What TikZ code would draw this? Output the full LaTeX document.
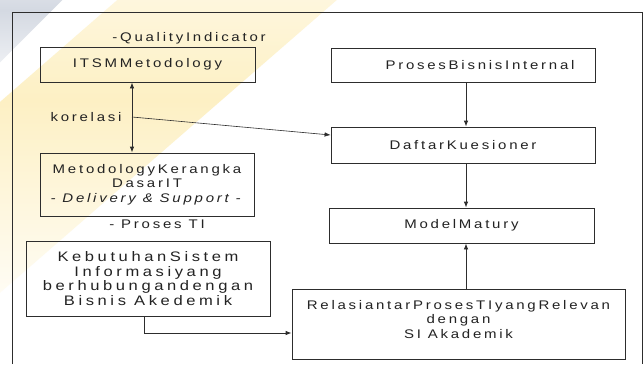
\documentclass[tikz,border=0pt]{standalone}
\usepackage{fontspec}
\setmainfont{Liberation Sans}[FakeStretch=1.2, LetterSpace=22]
\usetikzlibrary{arrows.meta}
\definecolor{inkc}{RGB}{35,35,35}
\definecolor{linec}{RGB}{45,45,45}
\definecolor{bandy}{RGB}{253,240,196}
\definecolor{bandg}{RGB}{212,217,226}
\tikzset{
  box/.style={draw=linec, line width=0.8pt, inner sep=0pt, align=center, text=inkc,
    font=\fontsize{12.5}{14.5}\selectfont},
  widetext/.style={font=\fontsize{13.8}{14.5}\selectfont\addfontfeature{LetterSpace=26}},
  lbl/.style={inner sep=0pt, text=inkc, font=\fontsize{12.5}{14.5}\selectfont},
  arr/.style={draw=linec, line width=0.8pt, -{Latex[length=6pt,width=4.5pt]}},
  darr/.style={draw=linec, line width=0.8pt, {Latex[length=6pt,width=4.5pt]}-{Latex[length=6pt,width=4.5pt]}},
  frame/.style={draw=linec, line width=0.8pt}
}
\begin{document}
\begin{tikzpicture}[x=1pt,y=-1pt]
\fill[white] (0,0) rectangle (644,364);
\useasboundingbox (0,0) rectangle (644,364);
\begin{scope}
  \clip (0,0) rectangle (644,364);
  \begin{scope}[shift={(112,100)},rotate=41]
    \shade[top color=white, bottom color=white, middle color=bandy] (-280,-72) rectangle (280,72);
  \end{scope}
  \begin{scope}[shift={(10,10)},rotate=45]
    \shade[top color=white, bottom color=white, middle color=bandg] (-100,-30) rectangle (100,30);
  \end{scope}
\end{scope}
% outer frame
\draw[frame] (12,364) -- (12,12) -- (642,12) -- (642,364);
% boxes
\node[box, minimum width=215pt, minimum height=35pt] (itsm) at (147.5,64.5) {ITSMMetodology};
\node[box, minimum width=264pt, minimum height=34pt] (pbi) at (463,65) {\hspace*{34pt}ProsesBisnisInternal};
\node[box, minimum width=264pt, minimum height=36pt] (dk) at (463,145) {DaftarKuesioner};
\node[box, minimum width=265pt, minimum height=35pt] (mm) at (461.5,225.5) {ModelMatury};
\node[box, minimum width=214pt, minimum height=63pt] (mkd) at (147,184.5) {MetodologyKerangka\\DasarIT\\\textit{- Delivery \& Support -}};
\node[box, widetext, minimum width=244pt, minimum height=75pt] (keb) at (148,278.5) {KebutuhanSistem\\Informasiyang\\berhubungandengan\\Bisnis Akedemik};
\node[box, minimum width=333pt, minimum height=70pt] (rel) at (458.5,324) {RelasiantarProsesTIyangRelevan\\dengan\\SI Akademik\\[-4.5pt]};
% labels
\node[lbl] (qi) at (189,38) {-QualityIndicator};
\node[lbl] (pti) at (157,224) {- Proses TI};
\node[lbl] (kor) at (86,117) {korelasi};
\coordinate (kc) at (132,117);
% connectors
\draw[darr] (itsm.south -| kc) -- (mkd.north -| kc);
\draw[arr, line width=0.6pt] (kc) -- ([yshift=10pt]dk.west);
\draw[arr] (pbi.south -| 466,0) -- (dk.north -| 466,0);
\draw[arr] (dk.south -| 466,0) -- (mm.north -| 466,0);
\draw[arr] (rel.north -| 466,0) -- (mm.south -| 466,0);
\draw[arr] (keb.south -| 144,0) |- ([yshift=-9pt]rel.west);
\end{tikzpicture}
\end{document}
